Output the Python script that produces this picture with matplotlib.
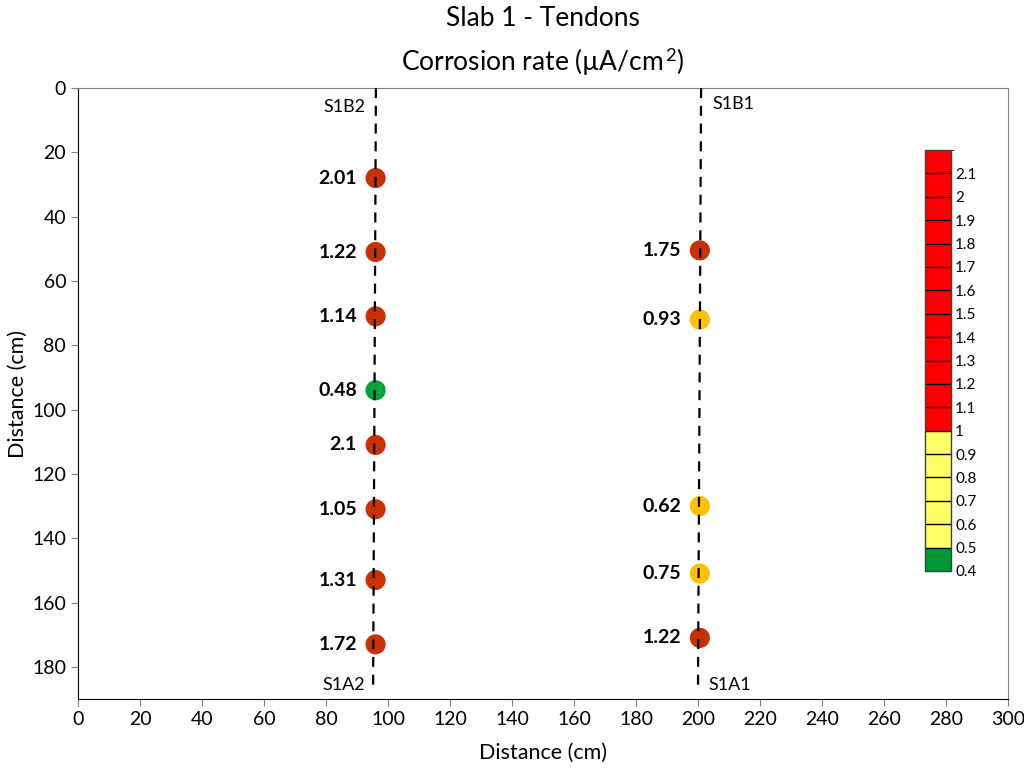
import matplotlib
matplotlib.use("Agg")
import matplotlib.pyplot as plt
import numpy as np
from matplotlib.colors import ListedColormap, BoundaryNorm
import matplotlib as mpl

plt.rcParams['font.family'] = ['Lato', 'DejaVu Sans']
plt.rcParams['mathtext.fontset'] = 'custom'
plt.rcParams['mathtext.rm'] = 'Lato'
plt.rcParams['mathtext.it'] = 'Lato:italic'
plt.rcParams['mathtext.bf'] = 'Lato:bold'

# Data
left_x = [96, 96, 96, 96, 96, 96, 96, 96]
left_y = [28, 51, 71, 94, 111, 131, 153, 173]
left_vals = [2.01, 1.22, 1.14, 0.48, 2.1, 1.05, 1.31, 1.72]
right_x = [200.6, 200.6, 200.6, 200.6, 200.6]
right_y = [50.5, 72, 130, 151, 171]
right_vals = [1.75, 0.93, 0.62, 0.75, 1.22]

line_names = ["S1B2", "S1B1", "S1A2", "S1A1"]
tendon_left_x = [96.1, 95.2]
tendon_right_x = [201.0, 200.0]
tendon_y = [0, 186.5]

cb_bounds = [round(0.4 + 0.1 * i, 1) for i in range(19)]
cb_labels = ["0.4", "0.5", "0.6", "0.7", "0.8", "0.9", "1", "1.1", "1.2", "1.3",
             "1.4", "1.5", "1.6", "1.7", "1.8", "1.9", "2", "2.1"]

def pt_color(v):
    if v < 0.5:
        return "#00A040"
    elif v < 1.0:
        return "#FFC000"
    return "#C83200"

def bar_color(lo):
    if lo < 0.5 - 1e-9:
        return "#009933"
    elif lo < 1.0 - 1e-9:
        return "#FFFF66"
    return "#FF0000"

fig = plt.figure(figsize=(10.24, 7.71), dpi=100)
ax = fig.add_axes([78/1024, 1-699/771, 930/1024, 611/771])

ax.plot(tendon_left_x, tendon_y, color="black", lw=1.6, dashes=(4.5, 3.5), zorder=3)
ax.plot(tendon_right_x, tendon_y, color="black", lw=1.6, dashes=(4.5, 3.5), zorder=3)

ax.scatter(left_x, left_y, s=210, c=[pt_color(v) for v in left_vals], edgecolors='none', zorder=2)
ax.scatter(right_x, right_y, s=210, c=[pt_color(v) for v in right_vals], edgecolors='none', zorder=2)

for x, y, v in zip(left_x, left_y, left_vals):
    ax.text(x - 6.0, y, f"{v:g}", ha="right", va="center", fontsize=14, fontweight="bold")
for x, y, v in zip(right_x, right_y, right_vals):
    ax.text(x - 6.0, y, f"{v:g}", ha="right", va="center", fontsize=14, fontweight="bold")

ax.text(92.8, 6, line_names[0], ha="right", va="center", fontsize=13)
ax.text(204.5, 5, line_names[1], ha="left", va="center", fontsize=13)
ax.text(92.5, 185.5, line_names[2], ha="right", va="center", fontsize=13)
ax.text(203.5, 185.5, line_names[3], ha="left", va="center", fontsize=13)

ax.set_xlim(0, 300)
ax.set_ylim(190, 0)
ax.set_xticks(np.arange(0, 301, 20))
ax.set_yticks(np.arange(0, 181, 20))
ax.tick_params(direction="out", length=5, color="#808080", labelsize=14)
for s in ["top", "right"]:
    ax.spines[s].set_color("#808080")
for s in ["left", "bottom"]:
    ax.spines[s].set_color("black")
ax.set_xlabel("Distance (cm)", fontsize=15.5, labelpad=11)
ax.set_ylabel("Distance (cm)", fontsize=15.5, labelpad=3)

fig.text(543/1024, 1-18/771, "Slab 1 - Tendons", ha="center", va="center", fontsize=19)
fig.text(543/1024, 1-62/771, "Corrosion rate (µA/cm$^{\\,2}$)", ha="center", va="center", fontsize=19)

# colorbar
cax = fig.add_axes([925/1024, 1-571/771, 26/1024, 421/771])
cols = [bar_color(b) for b in cb_bounds[:-1]]
cmap = ListedColormap(cols)
norm = BoundaryNorm(cb_bounds, cmap.N)
cb = mpl.colorbar.ColorbarBase(cax, cmap=cmap, norm=norm, boundaries=cb_bounds,
                               ticks=cb_bounds[:-1], drawedges=True, orientation="vertical")
cb.set_ticklabels(cb_labels)
cb.dividers.set_color("black")
cb.dividers.set_linewidth(1.0)
cb.outline.set_edgecolor("#404040")
cb.outline.set_linewidth(1.0)
cax.tick_params(length=0, labelsize=11, pad=3)

fig.savefig("out.png", dpi=100)
